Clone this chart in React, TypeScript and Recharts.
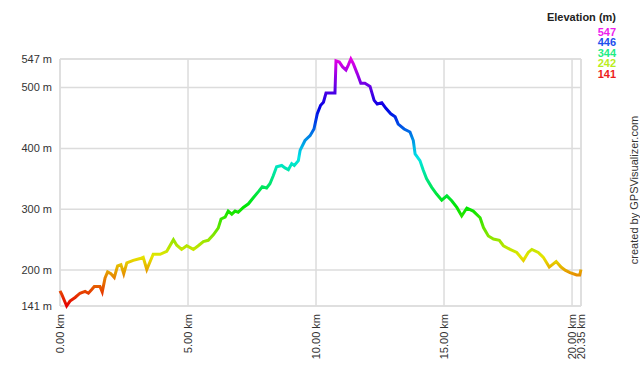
import React from "react";
import { LineChart, Line, XAxis, YAxis, CartesianGrid, ReferenceLine } from "recharts";

// elevation profile
const distanceKm = [
  0, 0.07, 0.26, 0.39, 0.59, 0.78, 0.98, 1.11, 1.24, 1.34, 1.56, 1.65, 1.76, 1.86, 1.99,
  2.12, 2.25, 2.38, 2.49, 2.61, 2.86, 3.13, 3.25, 3.39, 3.48, 3.64, 3.91, 4.17, 4.43, 4.56,
  4.75, 4.95, 5.21, 5.4, 5.6, 5.79, 5.99, 6.18, 6.29, 6.45, 6.57, 6.71, 6.84, 6.96, 7.16,
  7.36, 7.55, 7.75, 7.9, 8.07, 8.2, 8.33, 8.46, 8.66, 8.79, 8.92, 9.05, 9.15, 9.31, 9.38,
  9.57, 9.77, 9.92, 10.05, 10.18, 10.29, 10.39, 10.74, 10.78, 10.91, 11.04, 11.17, 11.26, 11.36,
  11.46, 11.61, 11.75, 11.91, 12.11, 12.27, 12.39, 12.57, 12.73, 12.92, 13.09, 13.21, 13.44, 13.67,
  13.8, 13.87, 14.06, 14.19, 14.32, 14.52, 14.71, 14.91, 15.11, 15.3, 15.5, 15.69, 15.89, 16.14,
  16.41, 16.54, 16.73, 16.93, 17.16, 17.32, 17.58, 17.84, 18.1, 18.29, 18.43, 18.68, 18.88, 19.11,
  19.38, 19.57, 19.73, 19.92, 20.18, 20.3, 20.35,
];
const elevationM = [
  166, 160, 141, 149, 155, 162, 165, 162, 168, 173, 173, 164, 187, 197, 194,
  188, 207, 209, 194, 212, 216, 219, 221, 201, 210, 226, 226, 231, 250, 241,
  234, 240, 234, 240, 247, 249, 258, 269, 284, 287, 297, 292, 297, 295, 303,
  309, 319, 329, 337, 335, 342, 355, 370, 372, 368, 365, 375, 372, 380, 397,
  413, 421, 432, 457, 471, 476, 491, 491, 544, 542, 534, 529, 537, 547,
  539, 523, 507, 507, 502, 479, 473, 475, 466, 457, 452, 440, 432, 427,
  413, 391, 380, 364, 350, 336, 325, 315, 322, 314, 303, 289, 302, 297,
  286, 270, 256, 251, 249, 240, 234, 229, 216, 229, 234, 229, 221, 205,
  214, 205, 200, 196, 192, 192, 201,
];

const xTicks = [0, 5, 10, 15, 20, 20.35];
const yTicks = [141, 200, 300, 400, 500, 547];
const legendValues = [547, 446, 344, 242, 141];

const minEle = 141;
const maxEle = 547;

const data = distanceKm.map((d, i) => ({ d, e: elevationM[i] }));

// red at the lowest point, magenta at the highest
const hueFor = (v: number) => (300 * (v - minEle)) / (maxEle - minEle);

const XTick = (props: any) => {
  const { x, y, payload } = props;
  return (
    <text
      x={x}
      y={y}
      transform={`rotate(-90, ${x}, ${y})`}
      textAnchor="end"
      dominantBaseline="central"
      fontSize={11}
      fill="#333"
    >
      {payload.value.toFixed(2) + " km"}
    </text>
  );
};

export default function App() {
  const stops = [0, 0.1, 0.2, 0.3, 0.4, 0.5, 0.6, 0.7, 0.8, 0.9, 1];
  return (
    <div
      style={{
        position: "absolute",
        left: 0,
        top: 0,
        width: 640,
        height: 366,
        background: "#fff",
        fontFamily: "'Liberation Sans', Arial, sans-serif",
      }}
    >
      <LineChart
        width={640}
        height={366}
        data={data}
        margin={{ top: 59, right: 59, bottom: 0, left: 0 }}
      >
        <defs>
          <linearGradient id="elevGrad" x1="0" y1="0" x2="0" y2="1">
            {stops.map((o) => (
              <stop key={o} offset={o} stopColor={`hsl(${300 * (1 - o)}, 100%, 45%)`} />
            ))}
          </linearGradient>
        </defs>
        <CartesianGrid stroke="#dcdcdc" strokeWidth={1.5} />
        <XAxis
          dataKey="d"
          type="number"
          domain={[0, 20.35]}
          ticks={xTicks}
          interval={0}
          height={60}
          axisLine={false}
          tickLine={false}
          tick={<XTick />}
        />
        <YAxis
          type="number"
          domain={[minEle, maxEle]}
          ticks={yTicks}
          interval={0}
          width={60}
          axisLine={false}
          tickLine={false}
          tick={{ fontSize: 11, fill: "#333" }}
          tickFormatter={(v: number) => `${v} m`}
        />
        <ReferenceLine x={0} stroke="#dcdcdc" strokeWidth={1.5} />
        <ReferenceLine x={20.35} stroke="#dcdcdc" strokeWidth={1.5} />
        <ReferenceLine y={minEle} stroke="#dcdcdc" strokeWidth={1.5} />
        <ReferenceLine y={maxEle} stroke="#dcdcdc" strokeWidth={1.5} />
        <Line
          type="linear"
          dataKey="e"
          stroke="url(#elevGrad)"
          strokeWidth={3}
          dot={false}
          isAnimationActive={false}
        />
      </LineChart>

      <div
        style={{
          position: "absolute",
          right: 24,
          top: 12,
          textAlign: "right",
          fontSize: 11,
          lineHeight: "10.6px",
        }}
      >
        <div style={{ fontWeight: "bold", color: "#222", marginBottom: 4 }}>Elevation (m)</div>
        {legendValues.map((v) => (
          <div key={v} style={{ fontWeight: "bold", color: `hsl(${hueFor(v)}, 85%, 52%)` }}>
            {v}
          </div>
        ))}
      </div>

      <div
        style={{
          position: "absolute",
          left: 634,
          top: 190,
          transform: "translate(-50%, -50%) rotate(-90deg)",
          whiteSpace: "nowrap",
          fontSize: 11,
          color: "#333",
        }}
      >
        created by GPSVisualizer.com
      </div>
    </div>
  );
}
